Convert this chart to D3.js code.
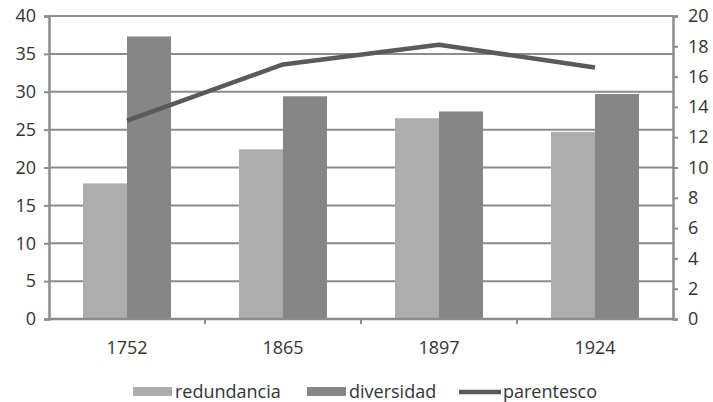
<!DOCTYPE html>
<html>
<head>
<meta charset="utf-8">
<script src="https://cdn.jsdelivr.net/npm/d3@7"></script>
<style>
  body { margin: 0; background: #fff; }
  text { font-family: "Open Sans", sans-serif; fill: #333; }
</style>
</head>
<body>
<div id="chart"></div>
<script>
// data
const years = ["1752", "1865", "1897", "1924"];
const redundancia = [17.9, 22.4, 26.5, 24.7];
const diversidad = [37.3, 29.4, 27.4, 29.7];
const parentesco = [13.1, 16.8, 18.1, 16.6];
const leftTicks = [0, 5, 10, 15, 20, 25, 30, 35, 40];
const rightTicks = [0, 2, 4, 6, 8, 10, 12, 14, 16, 18, 20];

const width = 713, height = 402;
const margin = {top: 16, right: 40, bottom: 83, left: 49};

const svg = d3.select("#chart").append("svg")
    .attr("width", width)
    .attr("height", height);

const x = d3.scaleBand()
    .domain(years)
    .range([margin.left, width - margin.right]);

const xInner = d3.scaleBand()
    .domain(["redundancia", "diversidad"])
    .range([0, x.bandwidth()])
    .paddingOuter(0.773);

const yL = d3.scaleLinear().domain([0, 40]).range([height - margin.bottom, margin.top]);
const yR = d3.scaleLinear().domain([0, 20]).range([height - margin.bottom, margin.top]);

const gridColor = "#8c8c8c";

// gridlines
svg.append("g")
    .selectAll("line")
    .data(leftTicks.filter(d => d > 0))
    .enter().append("line")
    .attr("x1", margin.left)
    .attr("x2", width - margin.right)
    .attr("y1", d => yL(d))
    .attr("y2", d => yL(d))
    .attr("stroke", gridColor)
    .attr("stroke-width", 2);

// bars
const colors = {redundancia: "#adadad", diversidad: "#868686"};
const barData = [];
years.forEach((yr, i) => {
    barData.push({year: yr, key: "redundancia", value: redundancia[i]});
    barData.push({year: yr, key: "diversidad", value: diversidad[i]});
});

svg.append("g")
    .selectAll("rect")
    .data(barData)
    .enter().append("rect")
    .attr("x", d => x(d.year) + xInner(d.key))
    .attr("width", xInner.bandwidth())
    .attr("y", d => yL(d.value))
    .attr("height", d => yL(0) - yL(d.value))
    .attr("fill", d => colors[d.key]);

// line
const line = d3.line()
    .x((d, i) => x(years[i]) + x.bandwidth() / 2)
    .y(d => yR(d));

svg.append("path")
    .datum(parentesco)
    .attr("d", line)
    .attr("fill", "none")
    .attr("stroke", "#5a5a5a")
    .attr("stroke-width", 4.5)
    .attr("stroke-linejoin", "round");

// axes
const leftAxis = svg.append("g")
    .attr("transform", `translate(${margin.left},0)`)
    .call(d3.axisLeft(yL).tickValues(leftTicks).tickSize(5).tickPadding(8));

const rightAxis = svg.append("g")
    .attr("transform", `translate(${width - margin.right},0)`)
    .call(d3.axisRight(yR).tickValues(rightTicks).tickSize(5).tickPadding(10));

const bottomAxis = svg.append("g")
    .attr("transform", `translate(0,${yL(0)})`)
    .call(d3.axisBottom(x).tickSize(0).tickPadding(22));

// category boundary ticks
bottomAxis.selectAll(".sep")
    .data(years.slice(1))
    .enter().append("line")
    .attr("class", "sep")
    .attr("x1", d => x(d))
    .attr("x2", d => x(d))
    .attr("y1", 0)
    .attr("y2", 5)
    .attr("stroke", gridColor)
    .attr("stroke-width", 2);

[leftAxis, rightAxis, bottomAxis].forEach(g => {
    g.select(".domain").attr("stroke", gridColor).attr("stroke-width", 2.5);
    g.selectAll(".tick line").attr("stroke", gridColor).attr("stroke-width", 2);
    g.selectAll("text").style("font-size", "18px").attr("fill", "#333");
});
bottomAxis.select(".domain").attr("d", `M${margin.left},0H${width - margin.right}`);

// legend
const legend = svg.append("g").attr("transform", "translate(0,392)");
const legendItems = [
    {label: "redundancia", type: "rect", color: colors.redundancia, x: 133},
    {label: "diversidad", type: "rect", color: colors.diversidad, x: 307},
    {label: "parentesco", type: "line", color: "#5a5a5a", x: 459}
];
legendItems.forEach(d => {
    if (d.type === "rect") {
        legend.append("rect")
            .attr("x", d.x).attr("y", -5)
            .attr("width", 39).attr("height", 9)
            .attr("fill", d.color);
    } else {
        legend.append("line")
            .attr("x1", d.x).attr("x2", d.x + 42)
            .attr("y1", 0).attr("y2", 0)
            .attr("stroke", d.color).attr("stroke-width", 4.5);
    }
    legend.append("text")
        .attr("x", d.x + (d.type === "rect" ? 42 : 44))
        .attr("y", 6)
        .style("font-size", "18px")
        .text(d.label);
});
</script>
</body>
</html>
